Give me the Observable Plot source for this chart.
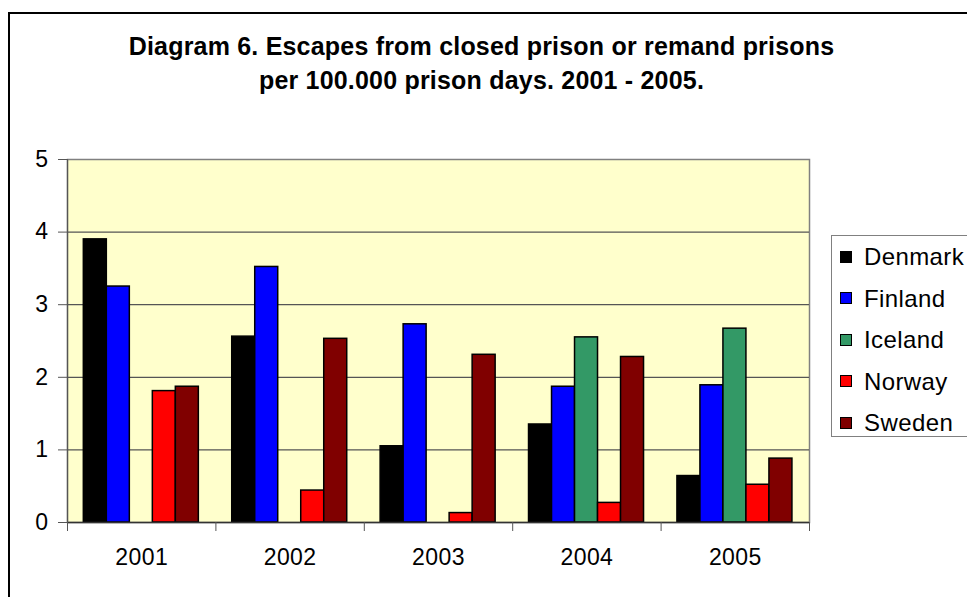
<!DOCTYPE html>
<html>
<head>
<meta charset="utf-8">
<script src="https://cdn.jsdelivr.net/npm/d3@7"></script>
<script src="https://cdn.jsdelivr.net/npm/@observablehq/plot@0.6"></script>
<style>
  html, body { margin: 0; padding: 0; background: #fff; overflow: hidden; width: 967px; height: 597px; }
  #wrap { position: relative; width: 967px; height: 597px; font-family: "Liberation Sans", Arial, sans-serif; }
  #frame { position: absolute; left: 8px; top: 12px; width: 2000px; height: 2000px; border: 2px solid #000; box-sizing: border-box; pointer-events: none; }
  #title { position: absolute; left: 0; top: 29px; width: 963px; text-align: center; font-weight: bold; font-size: 25px; letter-spacing: 0.2px; line-height: 34px; color: #000; }
  #legend { position: absolute; left: 831px; top: 235px; width: 200px; height: 202px; border: 1px solid #808080; box-sizing: border-box; background: #fff; }
  .item { position: absolute; left: 8px; height: 24px; font-size: 24px; letter-spacing: 0.4px; line-height: 24px; white-space: nowrap; }
  .sw { display: inline-block; width: 10px; height: 10px; border: 1px solid #000; margin-right: 12px; vertical-align: middle; position: relative; top: -2px; }
  #chart { position: absolute; left: 0; top: 0; }
  #chart svg text { letter-spacing: 0.4px; }
</style>
</head>
<body>
<div id="wrap">
  <div id="chart"></div>
  <div id="title"></div>
  <div id="legend"></div>
  <div id="frame"></div>
</div>
<script>
const titleLines = ["Diagram 6. Escapes from closed prison or remand prisons", "per 100.000 prison days. 2001 - 2005."];
const years = ["2001", "2002", "2003", "2004", "2005"];
const countries = ["Denmark", "Finland", "Iceland", "Norway", "Sweden"];
const colors = ["#000000", "#0000FF", "#339966", "#FF0000", "#800000"];
const denmark = [3.9, 2.56, 1.05, 1.35, 0.64];
const finland = [3.25, 3.52, 2.73, 1.87, 1.89];
const iceland = [null, null, null, 2.55, 2.67];
const norway = [1.81, 0.44, 0.13, 0.27, 0.52];
const sweden = [1.87, 2.53, 2.31, 2.28, 0.88];
const yTicks = [0, 1, 2, 3, 4, 5];

const series = [denmark, finland, iceland, norway, sweden];
const rows = years.flatMap((yr, i) => countries.map((c, j) => ({year: yr, i, country: c, j, value: series[j][i]})))
  .filter(d => d.value != null);

const groupPad = 0.11, barW = 0.155;

const chart = Plot.plot({
  width: 967,
  height: 597,
  marginLeft: 67,
  marginRight: 158,
  marginTop: 159,
  marginBottom: 75,
  style: {fontFamily: "'Liberation Sans', Arial, sans-serif", fontSize: "23px", color: "#000", background: "transparent"},
  x: {type: "linear", domain: [0, years.length]},
  y: {domain: [0, 5]},
  color: {domain: countries, range: colors},
  marks: [
    Plot.frame({fill: "#FFFFCC", stroke: "#808080", strokeWidth: 1.5}),
    Plot.ruleY(yTicks.filter(t => t > 0 && t < 5), {stroke: "#555", strokeWidth: 1.2}),
    Plot.rectY(rows, {
      x1: d => d.i + groupPad + d.j * barW,
      x2: d => d.i + groupPad + (d.j + 1) * barW,
      y1: 0,
      y2: "value",
      fill: "country",
      stroke: "#000",
      strokeWidth: 1.5
    }),
    Plot.ruleY([0], {stroke: "#333", strokeWidth: 1.5}),
    Plot.ruleX([0], {stroke: "#555", strokeWidth: 1.2}),
    Plot.axisY({ticks: yTicks, tickSize: 9, tickPadding: 10, tickFormat: d3.format("d"), label: null, stroke: "#555", fontSize: 23}),
    Plot.axisX({ticks: d3.range(0, years.length + 1), tickSize: 9, tickFormat: () => "", label: null, stroke: "#555"}),
    Plot.axisX({ticks: years.map((_, i) => i + 0.5), tickSize: 0, tickPadding: 26, tickFormat: d => years[Math.round(d - 0.5)], label: null, fontSize: 23})
  ]
});
document.getElementById("chart").appendChild(chart);

document.getElementById("title").innerHTML = titleLines.join("<br>");
const legend = document.getElementById("legend");
countries.forEach((c, k) => {
  const it = document.createElement("div");
  it.className = "item";
  it.style.top = (9 + k * 41.5) + "px";
  it.innerHTML = `<span class="sw" style="background:${colors[k]}"></span>${c}`;
  legend.appendChild(it);
});
</script>
</body>
</html>
